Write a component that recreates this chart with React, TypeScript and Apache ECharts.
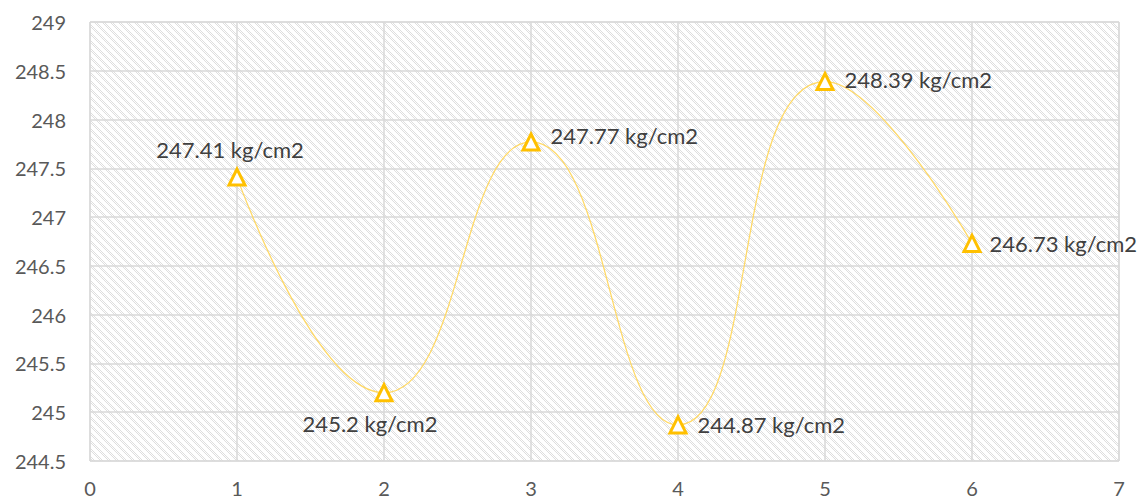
import React, { useEffect, useRef } from "react";
import * as echarts from "echarts";

const xValues = [1, 2, 3, 4, 5, 6];
const yValues = [247.41, 245.2, 247.77, 244.87, 248.39, 246.73];
const unit = "kg/cm2";
const labelPositions = ["top", "bottom", "right", "right", "right", "right"];
const labelOffsets = [[-7, 3], [-14, 0], [0, -6], [0, 0], [0, -2], [-2, 0]];

function makePattern(): HTMLCanvasElement {
  const c = document.createElement("canvas");
  c.width = 8;
  c.height = 8;
  const ctx = c.getContext("2d")!;
  ctx.fillStyle = "#ffffff";
  ctx.fillRect(0, 0, 8, 8);
  ctx.fillStyle = "#dedede";
  for (let y = 0; y < 8; y++) {
    for (let x = 0; x < 8; x++) {
      const d = (((x - y) % 8) + 8) % 8;
      if (d < 3 && (x + y) % 2 === 0) ctx.fillRect(x, y, 1, 1);
    }
  }
  return c;
}

export default function App() {
  const ref = useRef<HTMLDivElement>(null);
  useEffect(() => {
    document.body.style.margin = "0";
    const chart = echarts.init(ref.current!, undefined, { renderer: "svg" });
    const font = "Lato, 'Open Sans', sans-serif";
    chart.setOption({
      animation: false,
      backgroundColor: "#ffffff",
      grid: {
        left: 90,
        right: 25,
        top: 22,
        bottom: 41,
        show: true,
        borderColor: "#d9d9d9",
        borderWidth: 1,
        backgroundColor: { image: makePattern(), repeat: "repeat" },
      },
      xAxis: {
        type: "value",
        min: 0,
        max: 7,
        interval: 1,
        axisLine: { show: false },
        axisTick: { show: false },
        splitLine: { show: true, lineStyle: { color: "#d9d9d9", width: 1.5 } },
        axisLabel: { color: "#595959", fontSize: 20, fontFamily: font, margin: 17 },
      },
      yAxis: {
        type: "value",
        min: 244.5,
        max: 249,
        interval: 0.5,
        axisLine: { show: false },
        axisTick: { show: false },
        splitLine: { show: true, lineStyle: { color: "#d9d9d9", width: 1.5 } },
        axisLabel: { color: "#595959", fontSize: 20, fontFamily: font, margin: 24 },
      },
      series: [
        {
          type: "line",
          smooth: 0.5,
          symbol: "triangle",
          symbolSize: 16,
          lineStyle: { color: "#ffd966", width: 1.25 },
          itemStyle: { color: "#ffffff", borderColor: "#ffc000", borderWidth: 3 },
          data: xValues.map((x, i) => ({
            value: [x, yValues[i]],
            label: {
              show: true,
              position: labelPositions[i],
              offset: labelOffsets[i],
              distance: 10,
              formatter: `${yValues[i]} ${unit}`,
              color: "#404040",
              fontSize: 22,
              fontFamily: font,
            },
          })),
        },
      ],
    });
    return () => chart.dispose();
  }, []);
  return <div ref={ref} style={{ width: 1144, height: 502 }} />;
}
